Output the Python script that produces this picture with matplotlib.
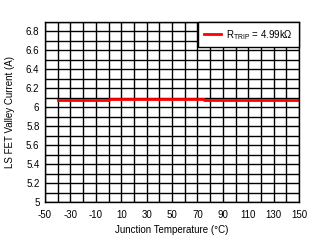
import matplotlib.pyplot as plt
import numpy as np

# datos
temp_c = [-40, 0, 0, 75, 75, 150]
valley_a = [6.078, 6.078, 6.087, 6.087, 6.077, 6.077]
serie_label = r"R$_{\mathregular{TRIP}}$ = 4.99k$\Omega$"

plt.rcParams["font.family"] = ["Liberation Sans", "DejaVu Sans"]
plt.rcParams["mathtext.fontset"] = "custom"
plt.rcParams["mathtext.rm"] = "Liberation Sans"
plt.rcParams["axes.unicode_minus"] = False

fig = plt.figure(figsize=(3.21, 2.43), dpi=100)
ax = fig.add_axes([45 / 321, 1 - 202 / 243, 254 / 321, 180 / 243])

ax.plot(temp_c, valley_a, color="red", linewidth=2, label=serie_label)

ax.set_xlim(-50, 150)
ax.set_ylim(5, 6.9)
ax.set_xticks(np.arange(-50, 151, 20))
ax.set_xticks(np.arange(-50, 151, 10), minor=True)
ax.set_yticks(np.round(np.arange(5, 6.81, 0.2), 1))
ax.set_yticklabels(["5", "5.2", "5.4", "5.6", "5.8", "6", "6.2", "6.4", "6.6", "6.8"])
ax.set_yticks(np.arange(5, 6.91, 0.1), minor=True)
ax.grid(True, which="both", color="black", linewidth=1)
ax.set_axisbelow(True)
ax.tick_params(which="both", length=0, labelsize=7)
ax.tick_params(axis="x", pad=6)
ax.tick_params(axis="y", pad=4)
for s in ax.spines.values():
    s.set_linewidth(1)

ax.set_xlabel("Junction Temperature (\u00b0C)", fontsize=7, labelpad=3)
ax.set_ylabel("LS FET Valley Current (A)", fontsize=7, labelpad=8)

leg = ax.legend(loc="upper right", fontsize=7, fancybox=False, framealpha=1,
                edgecolor="black", borderaxespad=0, handlelength=1.7,
                handletextpad=0.6, borderpad=0.6)
leg.get_frame().set_linewidth(1)

fig.savefig("out.png", dpi=100)
